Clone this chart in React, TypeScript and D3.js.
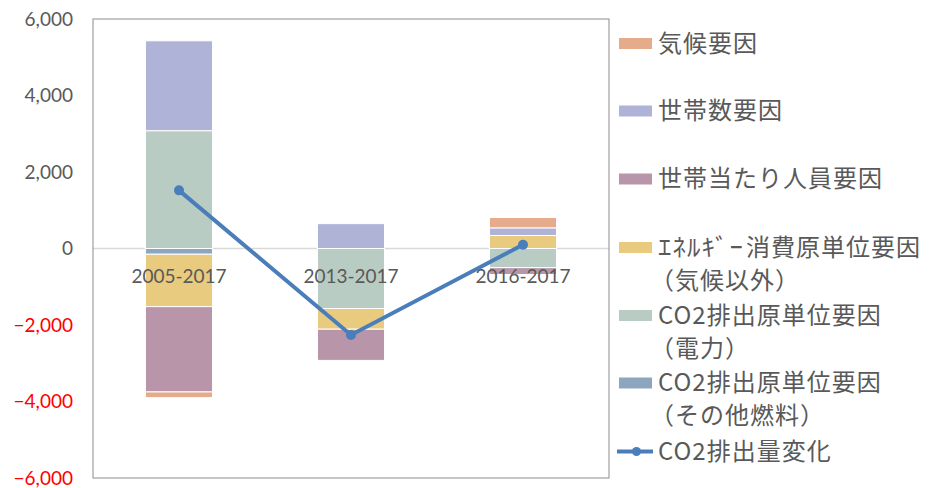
import React from 'react'
import { scaleBand, scaleLinear, stack, stackOffsetDiverging, line, format } from 'd3'

// periods
const categories = ['2005-2017', '2013-2017', '2016-2017']

// factor values (t-CO2), in Excel stacking order
const co2Other = [-150, 0, 0]
const co2Power = [3080, -1570, -500]
const energy = [-1370, -540, 340]
const perHousehold = [-2230, -815, -180]
const households = [2350, 650, 200]
const climate = [-150, 0, 270]

// total change line
const totalChange = [1520, -2260, 100]

const yTicks = [-6000, -4000, -2000, 0, 2000, 4000, 6000]

const series = [
  { key: 'co2Other', values: co2Other, color: '#8ea5c0', label: ['CO2排出原単位要因', '（その他燃料）'] },
  { key: 'co2Power', values: co2Power, color: '#b9ccc3', label: ['CO2排出原単位要因', '（電力）'] },
  { key: 'energy', values: energy, color: '#e8cb7e', label: ['ｴﾈﾙｷﾞｰ|消費原単位要因', '（気候以外）'] },
  { key: 'perHousehold', values: perHousehold, color: '#b895a8', label: ['世帯当たり人員要因'] },
  { key: 'households', values: households, color: '#b0b3d8', label: ['世帯数要因'] },
  { key: 'climate', values: climate, color: '#e6ab8b', label: ['気候要因'] },
]

const lineColor = '#4a7ebb'
const textColor = '#595959'

const LegendText = ({ t, x, y }: { t: string, x: number, y: number }) => {
  const common = { fontFamily: 'Noto Sans CJK JP', fontSize: 24, fill: textColor, letterSpacing: 1 }
  if (t.includes('|')) {
    // half-width katakana part is wider in the original font
    const [half, rest] = t.split('|')
    return (
      <g>
        <text x={x} y={y} dy="0.35em" {...common} textLength={86} lengthAdjust="spacingAndGlyphs">{half}</text>
        <text x={x + 88} y={y} dy="0.35em" {...common}>{rest}</text>
      </g>
    )
  }
  const dx = t.startsWith('（') ? -8 : 0
  return <text x={x + dx} y={y} dy="0.35em" {...common}>{t}</text>
}

const App = () => {
  const width = 931
  const height = 488
  const plot = { left: 93, right: 609, top: 19, bottom: 478 }

  const x = scaleBand().domain(categories).range([plot.left, plot.right]).paddingInner(0.61).paddingOuter(0.305)
  const y = scaleLinear().domain([-6000, 6000]).range([plot.bottom, plot.top])

  const rows = categories.map((c, i) => {
    const r: any = { cat: c }
    series.forEach(s => { r[s.key] = s.values[i] })
    return r
  })
  const stacked = stack().keys(series.map(s => s.key)).offset(stackOffsetDiverging)(rows)

  const cx = (c: string) => (x(c) as number) + x.bandwidth() / 2
  const path = line<number>().x((_, i) => cx(categories[i])).y(d => y(d))(totalChange)

  const fmt = format(',')
  const legendX = 619
  const legendTop = [43.5, 111, 179, 247.5, 315.5, 383]
  const legendItems = [...series].reverse()

  return (
    <svg width={width} height={height} style={{ position: 'absolute', left: 0, top: 0 }}>
      <rect x={0} y={0} width={width} height={height} fill="#fff" />

      {/* zero line */}
      <line x1={plot.left} x2={plot.right} y1={y(0)} y2={y(0)} stroke="#d9d9d9" strokeWidth={1.5} />

      {/* bars */}
      {stacked.map((layer, li) => (
        <g key={layer.key} fill={series[li].color}>
          {layer.map((d, i) => {
            const y0 = y(d[0]), y1 = y(d[1])
            if (Math.abs(y0 - y1) < 0.5) return null
            return (
              <rect key={i} x={x(categories[i])} y={Math.min(y0, y1)} width={x.bandwidth()}
                height={Math.abs(y0 - y1)} stroke="#fff" strokeWidth={1} />
            )
          })}
        </g>
      ))}

      {/* plot frame */}
      <rect x={plot.left} y={plot.top} width={plot.right - plot.left} height={plot.bottom - plot.top}
        fill="none" stroke="#8c8c8c" strokeWidth={1} />

      {/* y tick labels */}
      {yTicks.map(t => (
        <text key={t} x={73} y={y(t)} dy="0.35em" textAnchor="end" fontFamily="Lato" fontSize={19}
          fill={t < 0 ? '#ff0000' : textColor}>{fmt(t)}</text>
      ))}

      {/* category labels */}
      {categories.map(c => (
        <text key={c} x={cx(c)} y={y(0) + 28} dy="0.35em" textAnchor="middle" fontFamily="Lato" fontSize={19}
          fill={textColor}>{c}</text>
      ))}

      {/* total line */}
      <path d={path as string} fill="none" stroke={lineColor} strokeWidth={4} />
      {totalChange.map((v, i) => (
        <circle key={i} cx={cx(categories[i])} cy={y(v)} r={5} fill={lineColor} />
      ))}

      {/* legend */}
      {legendItems.map((s, i) => (
        <g key={s.key}>
          <rect x={legendX} y={legendTop[i] - 5.5} width={33} height={11} fill={s.color} />
          {s.label.map((t, j) => (
            <LegendText key={j} t={t} x={658} y={legendTop[i] + j * 33} />
          ))}
        </g>
      ))}
      <line x1={617} x2={653} y1={451.5} y2={451.5} stroke={lineColor} strokeWidth={4} />
      <circle cx={636.5} cy={451.5} r={4.5} fill={lineColor} />
      <LegendText t="CO2排出量変化" x={658} y={451.5} />
    </svg>
  )
}

export default App
